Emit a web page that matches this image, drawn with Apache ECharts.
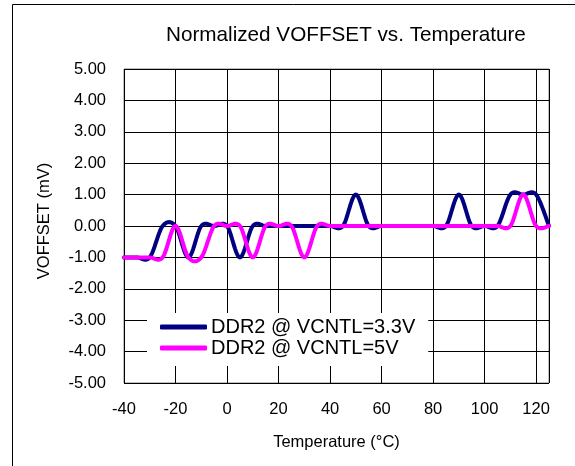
<!DOCTYPE html>
<html>
<head>
<meta charset="utf-8">
<script src="https://cdn.jsdelivr.net/npm/echarts@6/dist/echarts.min.js"></script>
<style>
html,body{margin:0;padding:0;background:#fff;}
#chart{width:575px;height:466px;}
</style>
</head>
<body>
<div id="chart"></div>
<script>
const temps = [-40,-35,-30,-25,-20,-15,-10,-5,0,5,10,15,20,25,30,35,40,45,50,55,60,65,70,75,80,85,90,95,100,105,110,115,120,125];
const ddr33 = [-1,-1,-1,0,0,-1,0,0,0,-1,0,0,0,0,0,0,0,0,1,0,0,0,0,0,0,0,1,0,0,0,1,1,1,0];
const ddr5  = [-1,-1,-1,-1,0,-1,-1,0,0,0,-1,0,0,0,-1,0,0,0,0,0,0,0,0,0,0,0,0,0,0,0,0,1,0,0];
const seriesNames = ['DDR2 @ VCNTL=3.3V','DDR2 @ VCNTL=5V'];
const seriesColors = ['#000080','#FF00FF'];
const chartTitle = 'Normalized VOFFSET vs. Temperature';
const xName = 'Temperature (°C)';
const yName = 'VOFFSET (mV)';

const FONT = '"Liberation Sans", Arial, sans-serif';
const chart = echarts.init(document.getElementById('chart'), null, {renderer:'canvas'});
const pairs = (ys) => temps.map((t,i)=>[t, ys[i]]);

// Smoothed line (Excel-like Catmull-Rom Bezier) through the data, positioned via the axes (api.coord)
function smoothRender(ys, color){
  return function(params, api){
    if (params.dataIndex !== 0) return null;
    const pts = temps.map((t,i)=>api.coord([t, ys[i]]));
    const out = [pts[0]];
    const steps = 16;
    for (let i=0;i<pts.length-1;i++){
      const p0 = pts[i-1]||pts[i], p1 = pts[i], p2 = pts[i+1], p3 = pts[i+2]||pts[i+1];
      const c1 = [p1[0]+(p2[0]-p0[0])/6, p1[1]+(p2[1]-p0[1])/6];
      const c2 = [p2[0]-(p3[0]-p1[0])/6, p2[1]-(p3[1]-p1[1])/6];
      for (let s=1;s<=steps;s++){
        const u = s/steps, v = 1-u;
        const a=v*v*v, b=3*v*v*u, c=3*v*u*u, d=u*u*u;
        out.push([a*p1[0]+b*c1[0]+c*c2[0]+d*p2[0], a*p1[1]+b*c1[1]+c*c2[1]+d*p2[1]]);
      }
    }
    return {type:'polyline', shape:{points:out},
      style:{fill:null, stroke:color, lineWidth:4, lineJoin:'round', lineCap:'round'}};
  };
}

chart.setOption({
  animation:false,
  backgroundColor:'#fff',
  textStyle:{fontFamily:FONT,color:'#000'},
  graphic:[
    {type:'line',shape:{x1:12.5,y1:4.5,x2:575,y2:4.5},style:{stroke:'#000',lineWidth:1},z:0},
    {type:'line',shape:{x1:12.5,y1:4.5,x2:12.5,y2:466},style:{stroke:'#000',lineWidth:1},z:0}
  ],
  title:{text:chartTitle,left:161,top:20,
    textStyle:{fontFamily:FONT,fontSize:20.7,fontWeight:'normal',color:'#000'}},
  grid:{left:124,right:26,top:69,bottom:83,show:true,borderColor:'#808080',borderWidth:1},
  legend:{
    orient:'vertical',left:147,top:313,
    padding:[4,13,8,13],
    backgroundColor:'#fff',
    itemWidth:47,itemHeight:5,itemGap:1,
    icon:'roundRect',
    textStyle:{fontFamily:FONT,fontSize:20,color:'#000',lineHeight:20,padding:[0,0,0,-1]},
    data:seriesNames
  },
  xAxis:{
    type:'value',min:-40,max:125,interval:20,
    name:xName,nameLocation:'middle',nameGap:51,
    nameTextStyle:{fontFamily:FONT,fontSize:16.5,color:'#000'},
    axisLine:{show:false},axisTick:{show:false},
    axisLabel:{fontFamily:FONT,fontSize:16.5,color:'#000',margin:18,showMaxLabel:false},
    splitLine:{show:true,lineStyle:{color:'#000',width:1}}
  },
  yAxis:{
    type:'value',min:-5,max:5,interval:1,
    name:yName,nameLocation:'middle',nameGap:71,
    nameTextStyle:{fontFamily:FONT,fontSize:16.5,color:'#000',padding:[0,0,0,10]},
    axisLine:{show:false},axisTick:{show:false},
    axisLabel:{fontFamily:FONT,fontSize:16.5,color:'#000',margin:18,formatter:(v)=>v.toFixed(2)},
    splitLine:{show:true,lineStyle:{color:'#000',width:1}}
  },
  series:[
    {name:seriesNames[0],type:'custom',data:pairs(ddr33),encode:{x:0,y:1},
      renderItem:smoothRender(ddr33, seriesColors[0]),itemStyle:{color:seriesColors[0]},z:2},
    {name:seriesNames[1],type:'custom',data:pairs(ddr5),encode:{x:0,y:1},
      renderItem:smoothRender(ddr5, seriesColors[1]),itemStyle:{color:seriesColors[1]},z:3}
  ]
});
</script>
</body>
</html>
